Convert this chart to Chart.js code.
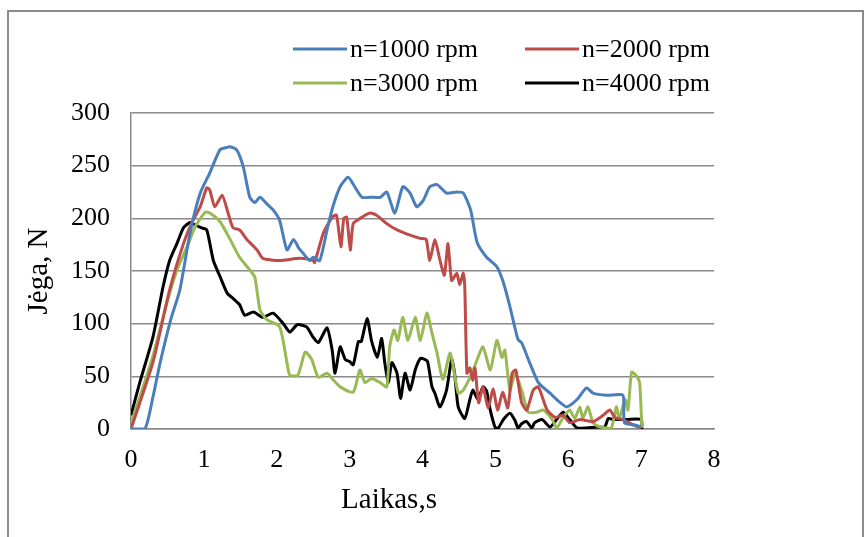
<!DOCTYPE html>
<html>
<head>
<meta charset="utf-8">
<script src="https://cdn.jsdelivr.net/npm/chart.js@4/dist/chart.umd.min.js"></script>
<style>
  html, body { margin: 0; padding: 0; background: #fff; }
  #wrap { position: relative; width: 865px; height: 537px; }
</style>
</head>
<body>
<div id="wrap"><canvas id="c" width="865" height="537"></canvas></div>
<script>
// Time (s) and force (N)
const t1000 = [0,0.19,0.30,0.40,0.55,0.67,0.81,0.95,1.08,1.22,1.30,1.36,1.45,1.54,1.63,1.70,1.77,1.86,1.95,2.04,2.14,2.23,2.30,2.36,2.45,2.50,2.59,2.69,2.77,2.87,2.98,3.07,3.17,3.28,3.42,3.51,3.62,3.73,3.83,3.92,4.01,4.10,4.20,4.33,4.47,4.56,4.66,4.75,4.88,5.02,5.11,5.20,5.31,5.36,5.47,5.59,5.75,5.89,5.98,6.12,6.25,6.34,6.53,6.75,6.77,6.90,7.00];
const f1000 = [0,0,30,63,105,132,186,224,243,265,267,268,265,249,220,215,220,214,208,198,170,180,172,167,160,163,160,189,211,230,239,230,220,220,220,225,205,230,224,211,217,230,232,224,225,224,208,177,163,154,139,116,85,82,63,44,34,25,21,28,39,34,32,32,6,4,2];

const t2000 = [0,0.30,0.53,0.72,0.85,0.95,1.04,1.08,1.15,1.25,1.32,1.40,1.49,1.59,1.73,1.81,2.04,2.32,2.50,2.52,2.64,2.76,2.82,2.88,2.92,2.96,3.01,3.05,3.17,3.28,3.37,3.51,3.65,3.83,3.97,4.05,4.10,4.17,4.24,4.30,4.35,4.40,4.47,4.51,4.56,4.58,4.61,4.65,4.69,4.72,4.77,4.83,4.90,4.97,5.03,5.10,5.17,5.23,5.28,5.36,5.43,5.52,5.59,5.71,5.82,5.93,6.02,6.16,6.34,6.48,6.57,6.64,6.75,6.89,7.00];
const f2000 = [0,63,132,176,198,211,229,227,211,222,208,191,189,180,170,162,160,162,160,158,186,201,203,173,200,201,170,195,201,205,203,195,189,184,181,180,160,180,160,146,176,141,148,137,148,135,53,58,46,58,25,40,20,38,18,35,20,53,56,25,18,37,40,18,11,13,6,9,7,13,18,11,9,4,1];

const t3000 = [0,0.30,0.49,0.63,0.77,0.88,1.02,1.08,1.22,1.36,1.49,1.63,1.70,1.77,1.86,2.04,2.14,2.18,2.29,2.39,2.48,2.57,2.69,2.77,2.87,3.05,3.14,3.21,3.30,3.42,3.51,3.55,3.61,3.66,3.73,3.80,3.90,3.97,4.06,4.13,4.20,4.28,4.38,4.49,4.56,4.68,4.75,4.83,4.93,5.02,5.09,5.13,5.20,5.27,5.36,5.45,5.57,5.66,5.78,5.84,5.93,6.02,6.09,6.16,6.20,6.27,6.34,6.43,6.59,6.66,6.70,6.78,6.82,6.87,6.94,6.98,7.01];
const f3000 = [5,69,119,151,173,192,206,205,197,180,163,151,144,113,104,97,63,51,51,73,66,49,53,47,40,35,56,44,48,44,40,78,94,84,106,84,106,84,110,91,72,47,72,34,37,53,66,78,56,84,68,75,37,53,37,16,16,18,9,1,11,18,10,21,10,21,6,2,1,21,10,28,18,54,50,44,1];

const t4000 = [0,0.12,0.30,0.44,0.53,0.63,0.72,0.81,0.90,0.97,1.04,1.13,1.22,1.32,1.40,1.49,1.56,1.68,1.81,1.95,2.09,2.18,2.28,2.41,2.50,2.57,2.69,2.76,2.80,2.87,2.94,3.00,3.05,3.12,3.16,3.24,3.30,3.38,3.44,3.48,3.53,3.58,3.65,3.70,3.76,3.83,3.90,3.97,4.03,4.07,4.13,4.17,4.24,4.33,4.40,4.44,4.49,4.58,4.65,4.69,4.76,4.83,4.88,4.93,5.00,5.04,5.11,5.20,5.27,5.31,5.36,5.43,5.50,5.54,5.64,5.75,5.84,5.93,6.02,6.12,6.25,6.39,6.50,6.55,6.62,6.80,7.00,7.01];
const f4000 = [13,44,87,135,160,176,191,196,193,191,189,160,145,129,124,118,108,111,106,110,100,92,99,97,87,82,96,75,53,78,66,64,61,83,83,105,84,68,86,64,44,63,53,29,53,37,56,67,66,64,40,34,21,37,66,53,21,10,28,37,28,40,36,18,1,1,9,15,8,1,5,7,1,6,9,2,9,16,9,1,1,2,2,10,9,9,9,0];

const seriesLabels = ['n=1000 rpm', 'n=2000 rpm', 'n=3000 rpm', 'n=4000 rpm'];
const seriesColors = ['#4A7EBB', '#BE4B48', '#98B954', '#000000'];
const xTicks = [0,1,2,3,4,5,6,7,8];
const yTicks = [0,50,100,150,200,250,300];
const xTitle = 'Laikas,s';
const yTitle = 'Jėga, N';

function pts(ts, fs) { return ts.map((t, i) => ({ x: t, y: fs[i] })); }
const allT = [t1000, t2000, t3000, t4000];
const allF = [f1000, f2000, f3000, f4000];

const FONT = "'Liberation Serif', 'Times New Roman', serif";
const GRID = '#8a8a8a';

const decor = {
  id: 'decor',
  beforeDraw(chart) {
    const ctx = chart.ctx;
    ctx.save();
    ctx.strokeStyle = '#8c8c8c';
    ctx.lineWidth = 2;
    ctx.strokeRect(8, 11, 855, 540);
    ctx.restore();
  },
  afterDraw(chart) {
    const ctx = chart.ctx;
    ctx.save();
    // legend
    const cols = [293, 525];
    const rows = [49, 83];
    ctx.font = '26px ' + FONT;
    ctx.textBaseline = 'middle';
    ctx.textAlign = 'left';
    chart.data.datasets.forEach((ds, i) => {
      const x = cols[i % 2], y = rows[Math.floor(i / 2)];
      ctx.strokeStyle = ds.borderColor;
      ctx.lineWidth = 3;
      ctx.beginPath();
      ctx.moveTo(x, y);
      ctx.lineTo(x + 54, y);
      ctx.stroke();
      ctx.fillStyle = '#000';
      ctx.fillText(ds.label, x + 57, y + 1);
    });
    // x-axis title
    ctx.font = '29px ' + FONT;
    ctx.textAlign = 'center';
    ctx.fillText(xTitle, 389, 500);
    ctx.restore();
  }
};

new Chart(document.getElementById('c'), {
  type: 'line',
  data: {
    datasets: seriesLabels.map((lab, i) => ({
      label: lab,
      data: pts(allT[i], allF[i]),
      borderColor: seriesColors[i],
      backgroundColor: seriesColors[i],
      borderWidth: 3,
      pointRadius: 0,
      tension: 0.2,
      fill: false
    }))
  },
  options: {
    responsive: false,
    animation: false,
    devicePixelRatio: 1,
    layout: { padding: { left: 0, right: 151, top: 113, bottom: 0 } },
    plugins: { legend: { display: false }, tooltip: { enabled: false } },
    scales: {
      x: {
        type: 'linear', min: 0, max: 8,
        afterBuildTicks: s => { s.ticks = xTicks.map(v => ({ value: v })); },
        afterFit: s => { s.height = 108; },
        grid: { display: false, drawTicks: false },
        border: { display: true, color: GRID, width: 1.5 },
        ticks: { color: '#000', font: { family: FONT, size: 26 }, padding: 16, maxRotation: 0 }
      },
      y: {
        min: 0, max: 300,
        afterBuildTicks: s => { s.ticks = yTicks.map(v => ({ value: v })); },
        afterFit: s => { s.width = 131; },
        grid: { color: GRID, lineWidth: 1.5, drawTicks: false },
        border: { display: true, color: GRID, width: 1.5 },
        ticks: { color: '#000', font: { family: FONT, size: 26 }, padding: 21 },
        title: { display: true, text: yTitle, color: '#000', font: { family: FONT, size: 29 }, padding: { top: 22, bottom: 0 } }
      }
    }
  },
  plugins: [decor]
});
</script>
</body>
</html>
